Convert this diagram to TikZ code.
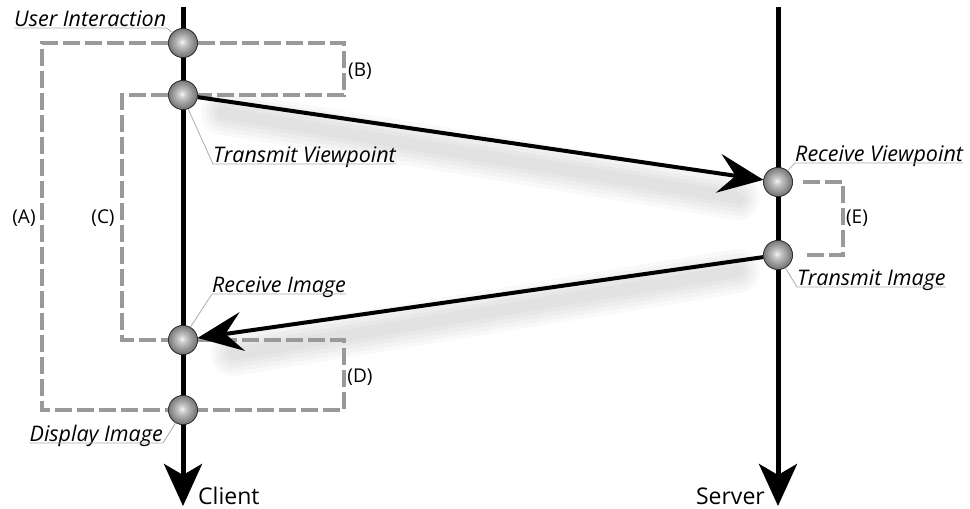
\documentclass[tikz,border=0pt]{standalone}
\usepackage{fontspec}
\setmainfont{Open Sans}
\usetikzlibrary{arrows.meta,calc}
% glossy ball used for the events on both time lines
\pgfdeclareradialshading{sphere}{\pgfpoint{-2bp}{2bp}}{%
  color(0bp)=(white!92!gray);
  color(7bp)=(gray!45);
  color(28bp)=(black!60);
  color(44bp)=(black!80);
  color(50bp)=(black!88)}
\begin{document}
\begin{tikzpicture}[x=1pt,y=-1pt,
  axis/.style={line width=5pt,-{Stealth[length=42pt,width=38pt,inset=11pt]}},
  msg/.style={line width=4pt,-{Stealth[length=45pt,width=39pt,inset=17pt]}},
  bracket/.style={draw=gray!80,line width=3.5pt,dash pattern=on 17pt off 5pt},
  ball/.style={circle,minimum size=29pt,inner sep=0pt,shading=sphere,draw=black!85,line width=0.6pt},
  lbl/.style={font=\itshape\fontsize{21.5}{22}\selectfont,inner sep=0pt},
  tag/.style={font=\fontsize{19}{20}\selectfont,inner sep=0pt},
  actor/.style={font=\fontsize{23}{24}\selectfont,inner sep=0pt},
  leader/.style={draw=gray!65,line width=0.8pt},
  shadowline/.style={black,opacity=0.022,line cap=round}]
\useasboundingbox (0,0) rectangle (970,509);

% time line ends
\coordinate (ctop) at (183,7);
\coordinate (cend) at (183,506);
\coordinate (stop) at (778,7);
\coordinate (send) at (778,506);

% events
\node[ball] (ui) at (183,43) {};
\node[ball] (tv) at (183,95) {};
\node[ball] (ri) at (183,340) {};
\node[ball] (di) at (183,410) {};
\node[ball] (rv) at (778,182) {};
\node[ball] (ti) at (778,255) {};

% soft shadows below the messages
\foreach \w in {44,36,28,20,12}{
  \draw[shadowline,line width=\w pt] ($(tv)+(40,18)$) -- ($(rv)+(-40,16)$);
  \draw[shadowline,line width=\w pt] ($(ti)+(-40,16)$) -- ($(ri)+(50,14)$);
}

% bracket columns
\coordinate (xA) at (42,0);
\coordinate (xB) at (344,0);
\coordinate (xC) at (122,0);
\coordinate (xE) at (843,0);
\draw[bracket] (ui.west) -- (ui.west -| xA) -- (di.west -| xA) -- (di.west);
\draw[bracket] (ui.east) -- (ui.east -| xB) -- (tv.east -| xB) -- (tv.east);
\draw[bracket] (tv.west) -- (tv.west -| xC) -- (ri.west -| xC) -- (ri.west);
\draw[bracket] (ri.east) -- (ri.east -| xB) -- (di.east -| xB) -- (di.east);
\draw[bracket] ([xshift=10pt]rv.east) -- (rv.east -| xE) -- (ti.east -| xE) -- ([xshift=10pt]ti.east);

\node[tag] (tA) at (24,218) {(A)};
\node[tag] (tB) at (360,71) {(B)};
\node[tag] (tC) at (103,218) {(C)};
\node[tag] (tD) at (360,377) {(D)};
\node[tag] (tE) at (857,218) {(E)};

% time lines
\draw[axis] (ctop) -- (cend);
\draw[axis] (stop) -- (send);

% messages
\draw[msg] (tv) -- (rv);
\draw[msg] (ti) -- (ri);

% redraw events above the lines
\foreach \n in {ui,tv,ri,di,rv,ti}{
  \node[ball] at (\n) {};
}

% event labels with leaders
\node[lbl,anchor=base west] (lUI) at (14,26) {User Interaction};
\draw[leader] ([yshift=-2pt]lUI.base west) -- ([yshift=-2pt]lUI.base east) -- (ui.135);
\node[lbl,anchor=base west] (lTV) at (213,162) {Transmit Viewpoint};
\draw[leader] ([yshift=-2pt]lTV.base east) -- ([yshift=-2pt]lTV.base west) -- (tv.-70);
\node[lbl,anchor=base west] (lRV) at (795,161) {Receive Viewpoint};
\draw[leader] ([yshift=-2pt]lRV.base east) -- ([yshift=-2pt]lRV.base west) -- (rv.50);
\node[lbl,anchor=base west] (lTI) at (797,285) {Transmit Image};
\draw[leader] ([yshift=-2pt]lTI.base east) -- ([yshift=-2pt]lTI.base west) -- (ti.-60);
\node[lbl,anchor=base west] (lRI) at (212,292) {Receive Image};
\draw[leader] ([yshift=-2pt]lRI.base east) -- ([yshift=-2pt]lRI.base west) -- (ri.60);
\node[lbl,anchor=base east] (lDI) at (163,441) {Display Image};
\draw[leader] ([yshift=-2pt]lDI.base west) -- ([yshift=-2pt]lDI.base east) -- (di.-120);

% actors
\node[actor,anchor=base west] (client) at (198,504) {Client};
\node[actor,anchor=base east] (server) at (765,504) {Server};
\end{tikzpicture}
\end{document}
